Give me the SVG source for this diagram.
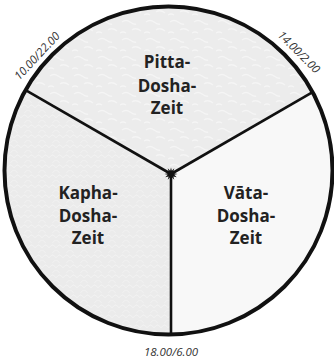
<svg xmlns="http://www.w3.org/2000/svg" width="334" height="361" viewBox="0 0 334 361">
<defs>
<pattern id="waves" width="14" height="10" patternUnits="userSpaceOnUse">
<rect width="14" height="10" fill="#ebebeb"/>
<path d="M0 8 Q3.5 2 7 8 M7 8 Q10.5 2 14 8 M-3.5 3 Q0 -3 3.5 3 M10.5 3 Q14 -3 17.5 3" fill="none" stroke="#f3f3f3" stroke-width="0.8"/>
</pattern>
<pattern id="mottle" width="24" height="18" patternUnits="userSpaceOnUse">
<rect width="24" height="18" fill="#ececec"/>
<path d="M2 4 q4 -3 8 0 t6 2 M12 12 q4 -3 9 1 M0 15 q3 -2 6 0" fill="none" stroke="#f5f5f5" stroke-width="1.4"/>
</pattern>
<style>
.sec{stroke:none}
.div{stroke:#111;stroke-width:2.6;fill:none}
.lbl{font-family:"Open Sans","Liberation Sans",sans-serif;font-weight:700;font-size:17px;fill:#222;text-anchor:middle}
.time{font-family:"Open Sans","Liberation Sans",sans-serif;font-style:italic;font-size:11.5px;fill:#333;text-anchor:middle}
</style>
</defs>
<g id="pitta">
<path class="sec" fill="url(#mottle)" d="M171 174 L25.6 90.05 A164 164 0 0 1 312.6 92.2 Z"/>
<text class="lbl" x="167" y="68">Pitta-</text>
<text class="lbl" x="167" y="92">Dosha-</text>
<text class="lbl" x="167" y="114">Zeit</text>
</g>
<g id="vata">
<path class="sec" fill="#f8f8f8" d="M171 174 L312.6 92.2 A164 164 0 0 1 171 334.5 Z"/>
<text class="lbl" x="246" y="199">Vāta-</text>
<text class="lbl" x="246" y="222">Dosha-</text>
<text class="lbl" x="246" y="244">Zeit</text>
</g>
<g id="kapha">
<path class="sec" fill="url(#waves)" d="M171 174 L171 334.5 A164 164 0 0 1 25.6 90.05 Z"/>
<text class="lbl" x="88" y="199">Kapha-</text>
<text class="lbl" x="88" y="222">Dosha-</text>
<text class="lbl" x="88" y="244">Zeit</text>
</g>
<g id="connectors">
<line class="div" x1="171" y1="174" x2="25.6" y2="90.05"/>
<line class="div" x1="171" y1="174" x2="312.6" y2="92.2"/>
<line class="div" x1="171" y1="174" x2="171" y2="334.5"/>
<circle cx="168.5" cy="170.5" r="164" fill="none" stroke="#111" stroke-width="4"/>
</g>
<g id="center">
<polygon fill="#111" transform="translate(171 174) scale(1.2)" points="5.5,0 2.7,0.72 4.76,2.75 1.98,1.98 2.75,4.76 0.72,2.7 0,5.5 -0.72,2.7 -2.75,4.76 -1.98,1.98 -4.76,2.75 -2.7,0.72 -5.5,0 -2.7,-0.72 -4.76,-2.75 -1.98,-1.98 -2.75,-4.76 -0.72,-2.7 0,-5.5 0.72,-2.7 2.75,-4.76 1.98,-1.98 4.76,-2.75 2.7,-0.72"/>
</g>
<g id="labels">
<text class="time" transform="translate(37 56) rotate(-47)" y="4">10.00/22.00</text>
<text class="time" transform="translate(299 52) rotate(45)" y="4">14.00/2.00</text>
<text class="time" x="171" y="356">18.00/6.00</text>
</g>
</svg>
